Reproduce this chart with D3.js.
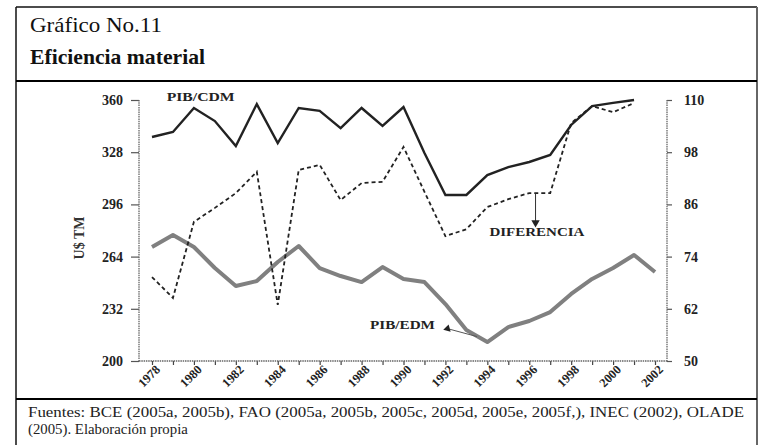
<!DOCTYPE html>
<html>
<head>
<meta charset="utf-8">
<script src="https://cdn.jsdelivr.net/npm/d3@7"></script>
<style>
  body { margin: 0; background: #fff; }
  svg text { font-family: "Liberation Serif", "DejaVu Serif", serif; }
</style>
</head>
<body>
<div id="chart"></div>
<script>
// data
var years = d3.range(1978, 2003);
var pibCdm = [337.3, 340.4, 355.1, 347.1, 331.8, 357.5, 333.6, 355.1, 353.3, 342.8, 355.1, 344.1, 355.7,
              327.5, 301.8, 301.8, 314.0, 318.9, 322.0, 326.3, 344.7, 356.3, 358.2, 360.0];
var diferencia = [69.3, 64.5, 82.0, 85.2, 88.6, 93.5, 62.9, 93.9, 95.1, 87.0, 90.9, 91.2, 99.2,
                  88.9, 78.7, 80.3, 85.4, 87.2, 88.6, 88.6, 104.7, 108.6, 107.2, 109.3];
var pibEdm = [269.9, 277.2, 269.9, 257.0, 246.0, 249.0, 260.7, 270.5, 257.0, 252.1, 248.4, 257.6, 250.3,
              248.4, 234.9, 219.0, 211.6, 220.8, 224.5, 230.0, 241.1, 250.3, 257.0, 265.0, 254.6];
var leftTicks = [200, 232, 264, 296, 328, 360];
var rightTicks = [50, 62, 74, 86, 98, 110];

var svg = d3.select("#chart").append("svg")
    .attr("width", 761)
    .attr("height", 445);

// frame
svg.append("line").attr("x1", 16).attr("x2", 16).attr("y1", 7).attr("y2", 445)
    .attr("stroke", "#111").attr("stroke-width", 1.5);
svg.append("line").attr("x1", 16).attr("x2", 757).attr("y1", 7).attr("y2", 7)
    .attr("stroke", "#111").attr("stroke-width", 1.5);
svg.append("line").attr("x1", 757).attr("x2", 757).attr("y1", 7).attr("y2", 445)
    .attr("stroke", "#666").attr("stroke-width", 2);
svg.append("line").attr("x1", 16).attr("x2", 757).attr("y1", 81).attr("y2", 81)
    .attr("stroke", "#000").attr("stroke-width", 2);
svg.append("line").attr("x1", 16).attr("x2", 757).attr("y1", 399).attr("y2", 399)
    .attr("stroke", "#000").attr("stroke-width", 2);

// titles
svg.append("text").attr("x", 30).attr("y", 32).attr("font-size", 22).attr("fill", "#111")
    .attr("textLength", 132).attr("lengthAdjust", "spacingAndGlyphs")
    .text("Gráfico No.11");
svg.append("text").attr("x", 30).attr("y", 64).attr("font-size", 21.5).attr("font-weight", "bold")
    .attr("textLength", 175).attr("lengthAdjust", "spacingAndGlyphs")
    .attr("fill", "#111").text("Eficiencia material");

// footer
svg.append("text").attr("x", 28).attr("y", 417).attr("font-size", 14.8).attr("fill", "#222")
    .attr("textLength", 716).attr("lengthAdjust", "spacingAndGlyphs")
    .text("Fuentes: BCE (2005a, 2005b), FAO (2005a, 2005b, 2005c, 2005d, 2005e, 2005f,), INEC (2002), OLADE");
svg.append("text").attr("x", 28).attr("y", 434).attr("font-size", 14.8).attr("fill", "#222")
    .text("(2005). Elaboración propia");

// scales
var x = d3.scaleLinear().domain([1978, 2002]).range([152, 655]);
var yL = d3.scaleLinear().domain([200, 360]).range([361, 100]);
var yR = d3.scaleLinear().domain([50, 110]).range([361, 100]);

// left axis
var leftAxis = svg.append("g").attr("transform", "translate(139,0)")
    .call(d3.axisLeft(yL).tickValues(leftTicks).tickSize(8).tickPadding(8));
leftAxis.selectAll("text").attr("font-size", 14).attr("font-weight", "bold").attr("fill", "#222");

// right axis
var rightAxis = svg.append("g").attr("transform", "translate(667,0)")
    .call(d3.axisRight(yR).tickValues(rightTicks).tickSize(5).tickPadding(12));
rightAxis.selectAll("text").attr("font-size", 14).attr("font-weight", "bold").attr("fill", "#222");

[leftAxis, rightAxis].forEach(function(a) {
    a.select(".domain").remove();
    a.selectAll("line").attr("stroke", "#555").attr("stroke-width", 1.2);
    a.selectAll("text").style("font-family", "Liberation Serif");
});
svg.append("line").attr("x1", 139).attr("x2", 139).attr("y1", 100).attr("y2", 361)
    .attr("stroke", "#666").attr("stroke-width", 1.3).attr("stroke-dasharray", "1.5,0.8");
svg.append("line").attr("x1", 667).attr("x2", 667).attr("y1", 100).attr("y2", 361)
    .attr("stroke", "#666").attr("stroke-width", 1.3).attr("stroke-dasharray", "1.5,0.8");

// bottom axis
var bottomAxis = svg.append("g").attr("transform", "translate(0,361)")
    .call(d3.axisBottom(x).tickValues(years).tickSize(4)
        .tickFormat(function(d) { return d % 2 === 0 ? d : ""; }));
bottomAxis.select(".domain").remove();
bottomAxis.selectAll("line").attr("stroke", "#444").attr("stroke-width", 1.2);
bottomAxis.selectAll("text")
    .attr("font-size", 12.5).attr("font-weight", "bold").attr("fill", "#222")
    .style("font-family", "Liberation Serif")
    .attr("text-anchor", "end")
    .attr("transform", "translate(1,2) rotate(-45)")
    .attr("dy", "0.35em").attr("y", 6);
svg.append("line").attr("x1", 139).attr("x2", 667).attr("y1", 361).attr("y2", 361)
    .attr("stroke", "#666").attr("stroke-width", 1.3).attr("stroke-dasharray", "1.5,0.8");

// axis title
svg.append("text").attr("transform", "translate(84,238) rotate(-90)")
    .attr("text-anchor", "middle").attr("font-size", 14).attr("font-weight", "bold").attr("fill", "#333")
    .text("U$ TM");

// lines
var lineL = d3.line()
    .x(function(d, i) { return x(years[i]); })
    .y(function(d) { return yL(d); });
var lineR = d3.line()
    .x(function(d, i) { return x(years[i]); })
    .y(function(d) { return yR(d); });

svg.append("path").datum(pibEdm).attr("d", lineL)
    .attr("fill", "none").attr("stroke", "#808080").attr("stroke-width", 4)
    .attr("stroke-linejoin", "round");
svg.append("path").datum(diferencia).attr("d", lineR)
    .attr("fill", "none").attr("stroke", "#222").attr("stroke-width", 1.8)
    .attr("stroke-dasharray", "4,3");
svg.append("path").datum(pibCdm).attr("d", lineL)
    .attr("fill", "none").attr("stroke", "#222").attr("stroke-width", 2.4)
    .attr("stroke-linejoin", "miter");

// annotations
svg.append("text").attr("x", x(1978.7)).attr("y", yL(359.2))
    .attr("font-size", 12).attr("font-weight", "bold").attr("fill", "#222")
    .attr("textLength", 68).attr("lengthAdjust", "spacingAndGlyphs").text("PIB/CDM");

svg.append("line").attr("x1", x(1996.3)).attr("x2", x(1996.3))
    .attr("y1", yR(88.5)).attr("y2", yR(82))
    .attr("stroke", "#333").attr("stroke-width", 1);
svg.append("path")
    .attr("d", d3.symbol().type(d3.symbolTriangle).size(30))
    .attr("transform", "translate(" + x(1996.3) + "," + yR(81.8) + ") rotate(180)")
    .attr("fill", "#222");
svg.append("text").attr("x", x(1994.1)).attr("y", yR(78.8))
    .attr("font-size", 12).attr("font-weight", "bold").attr("fill", "#222")
    .attr("textLength", 95).attr("lengthAdjust", "spacingAndGlyphs").text("DIFERENCIA");

svg.append("line").attr("x1", x(1993.5)).attr("x2", x(1992.2))
    .attr("y1", yL(215)).attr("y2", yL(219.5))
    .attr("stroke", "#555").attr("stroke-width", 1);
svg.append("path")
    .attr("d", d3.symbol().type(d3.symbolTriangle).size(25))
    .attr("transform", "translate(" + x(1992.1) + "," + yL(219.8) + ") rotate(-105)")
    .attr("fill", "#222");
svg.append("text").attr("x", x(1988.4)).attr("y", yL(219.6))
    .attr("font-size", 12).attr("font-weight", "bold").attr("fill", "#222")
    .attr("textLength", 65).attr("lengthAdjust", "spacingAndGlyphs").text("PIB/EDM");
</script>
</body>
</html>
